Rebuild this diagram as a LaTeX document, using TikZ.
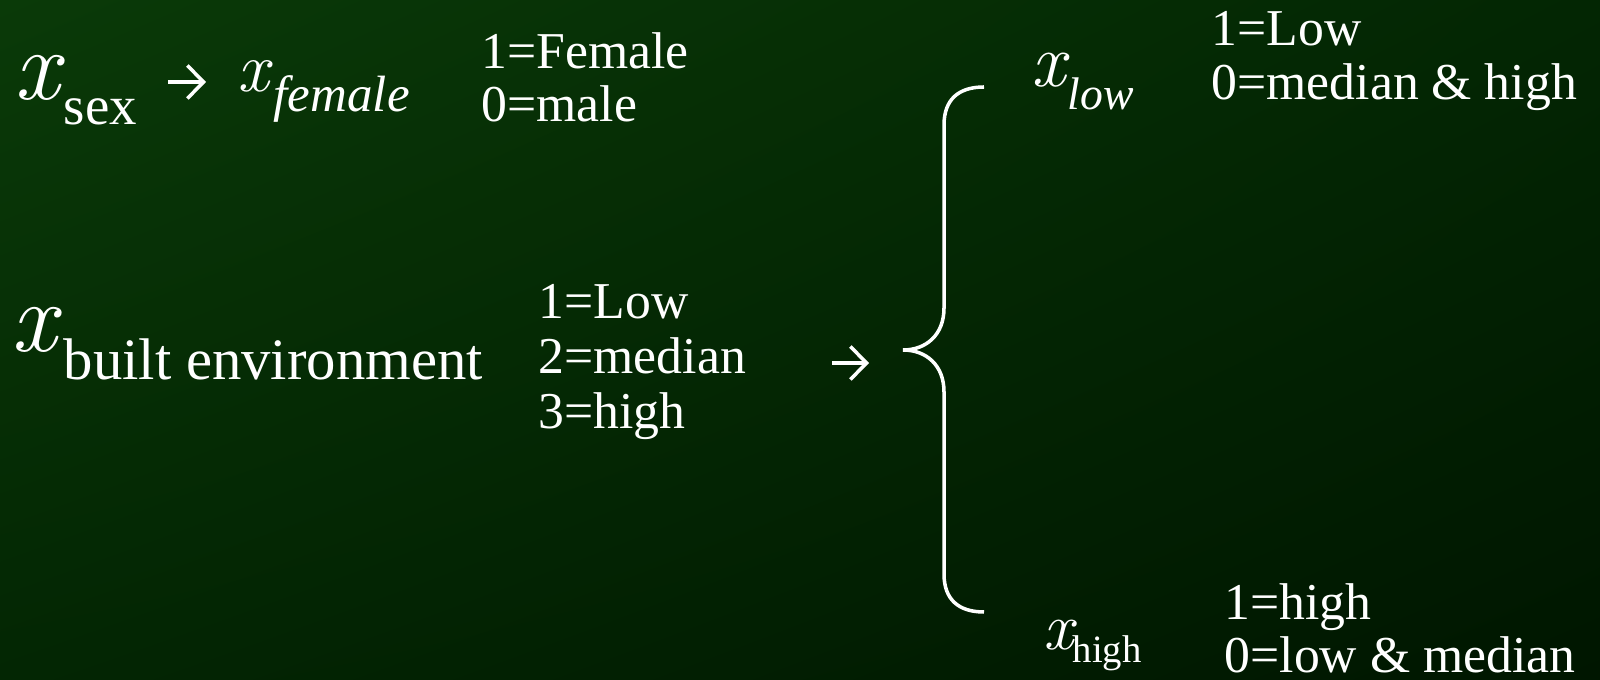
\documentclass[tikz,border=0pt]{standalone}
\usepackage{fontspec}
\setmainfont{Liberation Serif}
\usetikzlibrary{shadings,arrows.meta}
\newcommand{\fsz}[1]{\fontsize{#1}{#1}\selectfont}
\newcommand{\varit}{\fontfamily{lmr}\selectfont\itshape}

\definecolor{bgtl}{RGB}{10,58,8}
\definecolor{bgmid}{RGB}{3,38,3}
\definecolor{bgbr}{RGB}{0,22,0}

\begin{document}
\begin{tikzpicture}[
    x=0.01cm, y=-0.01cm,
    txt/.style={
        anchor=base west,
        inner sep=0pt,
        text=white
    },
    bigvar/.style={
        txt,
        font=\fsz{28.5}\varit
    },
    code/.style={
        txt,
        font=\fsz{14.7}
    },
    maps/.style={
        white,
        line width=1pt,
        -{Straight Barb[length=4.6pt, width=9.4pt]}
    },
    brace/.style={white, line width=1pt}
]

\useasboundingbox (0,0) rectangle (1600,680);
\shade[upper left=bgtl, upper right=bgmid, lower left=bgmid, lower right=bgbr]
    (0,0) rectangle (1600,680);

% sex
\node[bigvar] (xsex) at (14,100) {x};
\node[txt, font=\fsz{15.6}] (sexsub) at (63,125) {sex};
\coordinate (arr1s) at (168,82);
\coordinate (arr1e) at (206,82);
\draw[maps] (arr1s) -- (arr1e);
\node[txt, font=\fsz{20}\varit] (xfem) at (237,92) {x};
\node[txt, font=\fsz{14.5}\itshape] (femsub) at (273,112) {female};
\node[code] (fem1) at (481,69) {1=Female};
\node[code] (fem0) at (481,122) {0=male};

% built environment
\node[bigvar] (xbuilt) at (11,352) {x};
\node[txt, font=\fsz{16.7}] (builtsub) at (63,380) {built environment};
\node[code] (env1) at (538,319) {1=Low};
\node[code] (env2) at (538,374) {2=median};
\node[code] (env3) at (538,429) {3=high};
\coordinate (arr2s) at (832,363);
\coordinate (arr2e) at (869,363);
\draw[maps] (arr2s) -- (arr2e);

% brace
\coordinate (btop) at (984,87);
\coordinate (btip) at (903,350);
\coordinate (bbot) at (984,612);
\draw[brace] (btop) .. controls (958,87) and (944,100) .. (944,125)
    -- (944,308) .. controls (944,335) and (926,350) .. (btip)
    .. controls (926,350) and (944,365) .. (944,392)
    -- (944,574) .. controls (944,599) and (958,612) .. (bbot);

% dummies
\node[txt, font=\fsz{21.6}\varit] (xlow) at (1031,87) {x};
\node[txt, font=\fsz{13}\itshape] (lowsub) at (1067,110) {low};
\node[code] (low1) at (1211,46) {1=Low};
\node[code] (low0) at (1211,100) {0=median \& high};

\node[txt, font=\fsz{19}\varit] (xhigh) at (1043,650) {x};
\node[txt, font=\fsz{11}] (highsub) at (1072,663) {high};
\node[code] (high1) at (1224,620) {1=high};
\node[code] (high0) at (1224,673) {0=low \& median};

\end{tikzpicture}
\end{document}
